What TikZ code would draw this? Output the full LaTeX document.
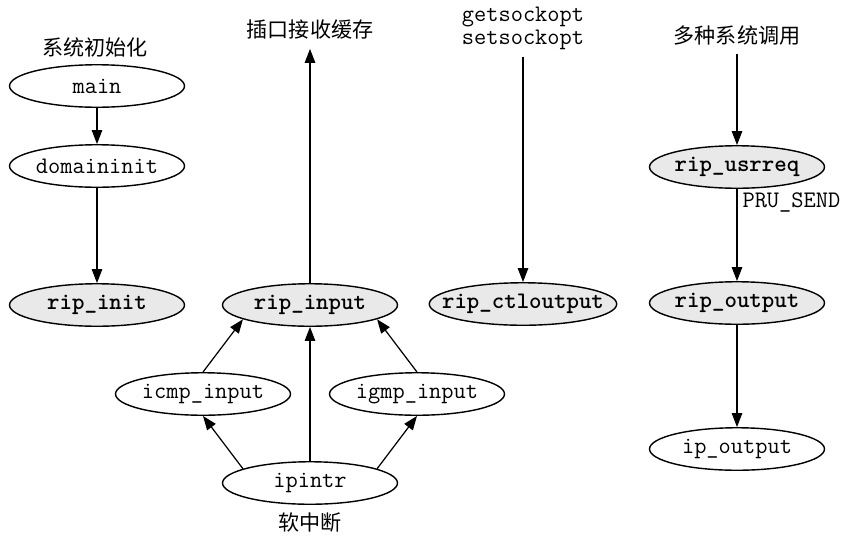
\documentclass[tikz,border=0pt]{standalone}
\usepackage{fontspec}
\newfontfamily\cjk{Noto Sans CJK SC}
\usetikzlibrary{arrows.meta,shapes.geometric}
\newcommand{\fname}[1]{\makebox[0pt]{#1}}

\begin{document}
\begin{tikzpicture}[
  x=0.02cm, y=-0.02cm,
  func/.style={draw, ellipse, line width=0.8pt, inner sep=0pt,
               minimum width=3.5cm, minimum height=0.85cm,
               font=\fontsize{13.5}{15}\selectfont\ttfamily},
  ripfunc/.style={func, fill=gray!17,
                  font=\fontsize{13.5}{15}\selectfont\ttfamily\bfseries},
  caller/.style={font=\fontsize{12}{14}\selectfont\cjk, inner ysep=5pt},
  callarrow/.style={-{Triangle[length=2.8mm,width=2.1mm]}, line width=0.7pt}
]
  \useasboundingbox (0,0) rectangle (845,535);

  % init path
  \node[caller] (lblinit) at (95,47) {系统初始化};
  \node[func] (main) at (97,86) {\fname{main}};
  \node[func] (domaininit) at (97,166) {\fname{domaininit}};
  \node[ripfunc] (ripinit) at (97,305) {\fname{rip\_init}};

  \draw[callarrow] (main) -- (domaininit);
  \draw[callarrow] (domaininit) -- (ripinit);

  % input path
  \node[caller] (lblsock) at (310,30) {插口接收缓存};
  \node[ripfunc] (ripinput) at (310,305) {\fname{rip\_input}};
  \node[func] (icmpinput) at (203,394) {\fname{icmp\_input}};
  \node[func] (igmpinput) at (417,394) {\fname{igmp\_input}};
  \node[func] (ipintr) at (310,483) {\fname{ipintr}};
  \node[caller] (lblsoft) at (310,523) {软中断};

  \draw[callarrow] (ripinput) -- (lblsock);
  \draw[callarrow] (icmpinput.north) -- (ripinput.192);
  \draw[callarrow] (igmpinput.north) -- (ripinput.348);
  \draw[callarrow] (ipintr) -- (ripinput);
  \draw[callarrow] (ipintr.168) -- (icmpinput.south);
  \draw[callarrow] (ipintr.12) -- (igmpinput.south);

  % socket options
  \node[font=\fontsize{13.5}{13}\selectfont\ttfamily, align=center, inner ysep=4pt]
    (lblopt) at (523,28) {getsockopt\\setsockopt};
  \node[ripfunc, minimum width=3.75cm] (ripctl) at (523,304) {\fname{rip\_ctloutput}};

  \draw[callarrow] (lblopt) -- (ripctl);

  % output path
  \node[caller] (lblsys) at (737,35) {多种系统调用};
  \node[ripfunc] (ripusrreq) at (737,167) {\fname{rip\_usrreq}};
  \node[ripfunc] (ripoutput) at (737,303) {\fname{rip\_output}};
  \node[func] (ipoutput) at (737,449) {\fname{ip\_output}};

  \draw[callarrow] (lblsys) -- (ripusrreq);
  \draw[callarrow] (ripusrreq) -- (ripoutput)
    node[pos=0.15, anchor=west, inner sep=0pt, xshift=4\pgflinewidth,
         font=\fontsize{13.5}{15}\selectfont\ttfamily] {PRU\_SEND};
  \draw[callarrow] (ripoutput) -- (ipoutput);
\end{tikzpicture}
\end{document}
